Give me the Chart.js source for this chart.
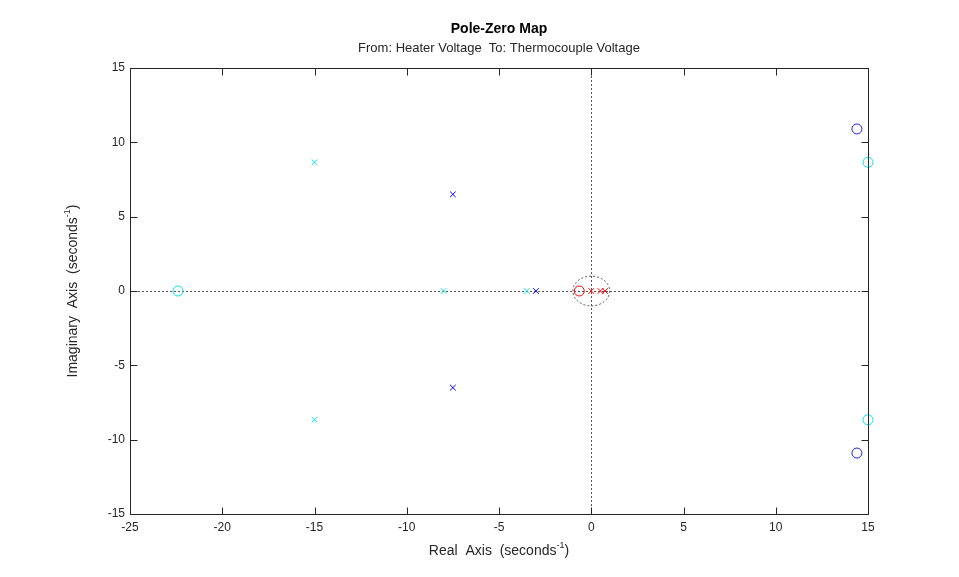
<!DOCTYPE html>
<html>
<head>
<meta charset="utf-8">
<script src="https://cdn.jsdelivr.net/npm/chart.js@4.4.1/dist/chart.umd.min.js"></script>
<style>
html,body{margin:0;padding:0;background:#fff;}
#wrap{width:959px;height:577px;}
</style>
</head>
<body>
<div id="wrap"><canvas id="c" width="959" height="577"></canvas></div>
<script>
// ---- data ----
const xTicks = [-25, -20, -15, -10, -5, 0, 5, 10, 15];
const yTicks = [-15, -10, -5, 0, 5, 10, 15];

const cyanPolesRe = [-15, -15, -8, -3.5];
const cyanPolesIm = [8.66, -8.66, 0, 0];
const cyanZerosRe = [-22.4, 15, 15];
const cyanZerosIm = [0, 8.66, -8.66];

const bluePolesRe = [-7.5, -7.5, -3];
const bluePolesIm = [6.5, -6.5, 0];
const blueZerosRe = [14.4, 14.4];
const blueZerosIm = [10.9, -10.9];

const redPolesRe = [0, 0.5, 0.75];
const redPolesIm = [0, 0, 0];
const redZerosRe = [-0.65];
const redZerosIm = [0];

const titleText = 'Pole-Zero Map';
const subtitleText = 'From: Heater Voltage  To: Thermocouple Voltage';

const pts = (re, im) => re.map((v, i) => ({x: v, y: im[i]}));

const FONT = '"Liberation Sans", Arial, Helvetica, sans-serif';

function mk(label, re, im, color, style, r) {
  return {
    label, data: pts(re, im), showLine: false,
    pointStyle: style, pointRadius: r, pointHoverRadius: r,
    borderColor: color, backgroundColor: 'rgba(0,0,0,0)',
    pointBorderWidth: 1, borderWidth: 1, clip: false
  };
}

function drawRich(ctx, parts, cx, cy, rotate) {
  ctx.save();
  ctx.translate(cx, cy);
  if (rotate) ctx.rotate(-Math.PI / 2);
  let total = 0;
  parts.forEach(p => {
    ctx.font = p.sup ? '9px ' + FONT : '14px ' + FONT;
    p.w = ctx.measureText(p.t).width;
    total += p.w;
  });
  let x = -total / 2;
  ctx.textBaseline = 'middle';
  ctx.textAlign = 'left';
  ctx.fillStyle = '#262626';
  parts.forEach(p => {
    ctx.font = p.sup ? '9px ' + FONT : '14px ' + FONT;
    ctx.fillText(p.t, x, p.sup ? -5 : 0);
    x += p.w;
  });
  ctx.restore();
}

const decor = {
  id: 'decor',
  beforeDatasetsDraw(chart) {
    const {ctx, chartArea: a, scales: {x, y}} = chart;
    const x0 = x.getPixelForValue(0), y0 = y.getPixelForValue(0);
    ctx.save();
    ctx.strokeStyle = '#555';
    ctx.lineWidth = 1;
    ctx.setLineDash([2, 2]);
    ctx.beginPath();
    ctx.moveTo(Math.round(x0) + 0.5, a.top);
    ctx.lineTo(Math.round(x0) + 0.5, a.bottom);
    ctx.moveTo(a.left, Math.round(y0) + 0.5);
    ctx.lineTo(a.right, Math.round(y0) + 0.5);
    ctx.stroke();
    const rx = x.getPixelForValue(1) - x0;
    const ry = y0 - y.getPixelForValue(1);
    ctx.beginPath();
    ctx.ellipse(x0, y0, rx, ry, 0, 0, Math.PI * 2);
    ctx.stroke();
    ctx.restore();
  },
  afterDatasetsDraw(chart) {
    const {ctx, chartArea: a, scales: {x, y}} = chart;
    ctx.save();
    ctx.strokeStyle = '#262626';
    ctx.lineWidth = 1;
    const L = Math.round(a.left) + 0.5, R = Math.round(a.right) + 0.5;
    const T = Math.round(a.top) + 0.5, B = Math.round(a.bottom) + 0.5;
    ctx.strokeRect(L, T, R - L, B - T);
    ctx.beginPath();
    const tl = 7;
    yTicks.forEach(v => {
      const p = Math.round(y.getPixelForValue(v)) + 0.5;
      ctx.moveTo(L, p); ctx.lineTo(L + tl, p);
      ctx.moveTo(R, p); ctx.lineTo(R - tl, p);
    });
    xTicks.forEach(v => {
      const p = Math.round(x.getPixelForValue(v)) + 0.5;
      ctx.moveTo(p, B); ctx.lineTo(p, B - tl);
      ctx.moveTo(p, T); ctx.lineTo(p, T + tl);
    });
    ctx.stroke();
    ctx.restore();
  },
  afterDraw(chart) {
    const {ctx, chartArea: a} = chart;
    const cx = (a.left + a.right) / 2;
    ctx.save();
    ctx.textAlign = 'center';
    ctx.textBaseline = 'middle';
    ctx.fillStyle = '#000';
    ctx.font = 'bold 14px ' + FONT;
    ctx.fillText(titleText, cx, 29);
    ctx.fillStyle = '#262626';
    ctx.font = '13px ' + FONT;
    ctx.fillText(subtitleText, cx, 48);
    ctx.restore();
    drawRich(ctx, [{t: 'Real  Axis  (seconds'}, {t: '-1', sup: true}, {t: ')'}], cx, 551, false);
    drawRich(ctx, [{t: 'Imaginary  Axis  (seconds'}, {t: '-1', sup: true}, {t: ')'}], 73, (a.top + a.bottom) / 2, true);
  }
};

new Chart(document.getElementById('c'), {
  type: 'scatter',
  data: {
    datasets: [
      mk('cyan poles', cyanPolesRe, cyanPolesIm, '#00e5ee', 'crossRot', 4),
      mk('cyan zeros', cyanZerosRe, cyanZerosIm, '#00e5ee', 'circle', 5),
      mk('blue poles', bluePolesRe, bluePolesIm, '#0000ff', 'crossRot', 4),
      mk('blue zeros', blueZerosRe, blueZerosIm, '#2020e0', 'circle', 5),
      mk('red poles', redPolesRe, redPolesIm, '#ff0000', 'crossRot', 4),
      mk('red zeros', redZerosRe, redZerosIm, '#ff0000', 'circle', 5)
    ]
  },
  options: {
    responsive: false,
    animation: false,
    events: [],
    layout: {padding: {top: 68, right: 91, left: 0, bottom: 0}},
    plugins: {legend: {display: false}, tooltip: {enabled: false}, title: {display: false}},
    scales: {
      x: {
        type: 'linear', min: -25, max: 15,
        afterBuildTicks: s => { s.ticks = xTicks.map(v => ({value: v})); },
        afterFit: s => { s.height = 63; },
        grid: {display: false, drawTicks: false},
        border: {display: false},
        ticks: {color: '#262626', font: {family: FONT, size: 12}, padding: 6, maxRotation: 0}
      },
      y: {
        type: 'linear', min: -15, max: 15,
        afterBuildTicks: s => { s.ticks = yTicks.map(v => ({value: v})); },
        afterFit: s => { s.width = 130; },
        grid: {display: false, drawTicks: false},
        border: {display: false},
        ticks: {color: '#262626', font: {family: FONT, size: 12}, padding: 5}
      }
    }
  },
  plugins: [decor]
});
</script>
</body>
</html>
